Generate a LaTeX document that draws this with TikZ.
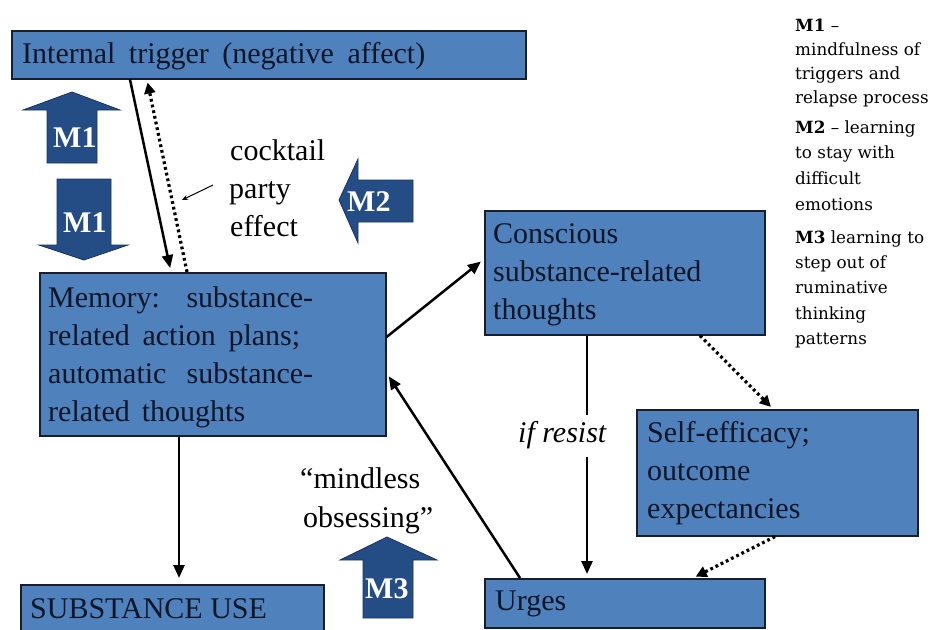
\documentclass[tikz,border=0pt]{standalone}
\usepackage{fontspec}
\setmainfont{Liberation Serif}
\newfontfamily\legendfont{DejaVu Serif}
\usetikzlibrary{arrows.meta,calc}
\definecolor{boxblue}{RGB}{79,129,189}
\definecolor{mblue}{RGB}{36,77,134}
\definecolor{mline}{RGB}{25,50,95}
\definecolor{boxline}{RGB}{22,30,48}
\definecolor{txtcol}{RGB}{14,22,38}
\begin{document}
\begin{tikzpicture}[x=1pt,y=-1pt,
  box/.style={draw=boxline, line width=1.6pt, fill=boxblue, anchor=north west, inner sep=0pt},
  txt/.style={anchor=base west, inner sep=0pt, text=txtcol, font=\fontsize{30}{38}\selectfont},
  free/.style={anchor=base west, inner sep=0pt, text=black, font=\fontsize{30}{38}\selectfont},
  mlab/.style={anchor=base west, inner sep=0pt, text=white, font=\fontsize{30}{36}\selectfont\bfseries},
  marrow/.style={fill=mblue, draw=mline, line width=0.8pt, line join=miter},
  leg/.style={anchor=base west, inner sep=0pt, text=black, font=\fontsize{16.8}{20}\legendfont},
  con/.style={line width=2.5pt, -{Triangle[length=13pt,width=11pt]}, shorten >=4pt},
  dotcon/.style={line width=3.2pt, dash pattern=on 2.8pt off 3pt, -{Triangle[length=11pt,width=11pt]}, shorten >=3pt}
]
\useasboundingbox (0,0) rectangle (933,629);
\clip (0,0) rectangle (933,629);

% boxes
\node[box, minimum width=514pt, minimum height=48pt] (trig) at (11,30) {};
\node[box, minimum width=346pt, minimum height=163pt] (mem) at (39,272) {};
\node[box, minimum width=303pt, minimum height=70pt] (sub) at (20,584) {};
\node[box, minimum width=280pt, minimum height=124pt] (conc) at (484,210) {};
\node[box, minimum width=281pt, minimum height=126pt] (self) at (636,409) {};
\node[box, minimum width=280pt, minimum height=49pt] (urge) at (484,578) {};

% box texts
\node[txt] (trigt) at (22,63) {\makebox[403pt][s]{Internal trigger (negative affect)}};
\node[txt] (mem1) at (48,307) {\makebox[265pt][s]{Memory: substance-}};
\node[txt] (mem2) at (48,345) {\makebox[252pt][s]{related action plans;}};
\node[txt] (mem3) at (48,383) {\makebox[265pt][s]{automatic substance-}};
\node[txt] (mem4) at (48,421) {\makebox[197pt][s]{related thoughts}};
\node[txt] (subt) at (30,618) {SUBSTANCE USE};
\node[txt] (conc1) at (493,243) {Conscious};
\node[txt] (conc2) at (493,281) {substance-related};
\node[txt] (conc3) at (493,319) {thoughts};
\node[txt] (self1) at (647,442) {Self-efficacy;};
\node[txt] (self2) at (647,480) {outcome};
\node[txt] (self3) at (647,518) {expectancies};
\node[txt] (urget) at (495,610) {Urges};

% connectors
\draw[con] ([xshift=119pt]trig.south west) -- ([xshift=132pt]mem.north west);
\draw[dotcon] ([xshift=148pt]mem.north west) -- ([xshift=136pt]trig.south west);
\draw[con] ([yshift=-65pt]mem.north east) -- ([yshift=-49pt]conc.north west);
\draw[con] ([xshift=36pt]urge.north west) -- ([yshift=-101pt]mem.north east);
\draw[con] ([xshift=103pt]conc.south west) -- ([xshift=103pt]urge.north west);
\draw[dotcon] ([xshift=216pt]conc.south west) -- ([xshift=137pt]self.north west);
\draw[dotcon] ([xshift=139pt]self.south west) -- ([xshift=209pt]urge.north west);
\draw[con, shorten >=6pt] ([xshift=140pt]mem.south west) -- ([xshift=159pt]sub.north west);

% labels
\node[free, fill=white, text height=24pt, text depth=12pt, inner ysep=3pt, inner xsep=0pt] (resist) at (518,442) {\itshape if resist};
\node[free] (ck1) at (230,160) {cocktail};
\node[free] (ck2) at (229,198) {party};
\node[free] (ck3) at (230,236) {effect};
\coordinate (cpa) at (213,185);
\coordinate (cpb) at (182,200);
\draw[line width=1pt, -{Stealth[length=6pt,width=5pt]}] (cpa) -- (cpb);
\node[free] (mo1) at (300,488) {\textquotedblleft mindless};
\node[free] (mo2) at (303,527) {obsessing\textquotedblright};

% M arrows
\path[marrow] (47,163) -- (47,110) -- (23,110) -- (72,92) -- (120,110) -- (97,110) -- (97,163) -- cycle;
\node[mlab] (m1a) at (53,147) {M1};
\path[marrow] (57,179) -- (111,179) -- (111,245) -- (128,245) -- (84,260) -- (39,245) -- (57,245) -- cycle;
\node[mlab] (m1b) at (63,232) {M1};
\path[marrow] (413,180) -- (358,180) -- (358,159) -- (339,200) -- (358,243) -- (358,222) -- (413,222) -- cycle;
\node[mlab] (m2) at (347,211) {M2};
\path[marrow] (363,618) -- (363,560) -- (340,560) -- (387,537) -- (437,560) -- (413,560) -- (413,618) -- cycle;
\node[mlab] (m3) at (365,598) {M3};

% legend
\node[leg] (l1) at (795,31) {\textbf{M1} –};
\node[leg] (l2) at (795,55) {mindfulness of};
\node[leg] (l3) at (795,79) {triggers and};
\node[leg] (l4) at (795,103) {relapse process};
\node[leg] (l5) at (795,133) {\textbf{M2} – learning};
\node[leg] (l6) at (795,158) {to stay with};
\node[leg] (l7) at (795,184) {difficult};
\node[leg] (l8) at (795,210) {emotions};
\node[leg] (l9) at (795,243) {\textbf{M3} learning to};
\node[leg] (l10) at (795,268) {step out of};
\node[leg] (l11) at (795,293) {ruminative};
\node[leg] (l12) at (795,319) {thinking};
\node[leg] (l13) at (795,344) {patterns};
\end{tikzpicture}
\end{document}
